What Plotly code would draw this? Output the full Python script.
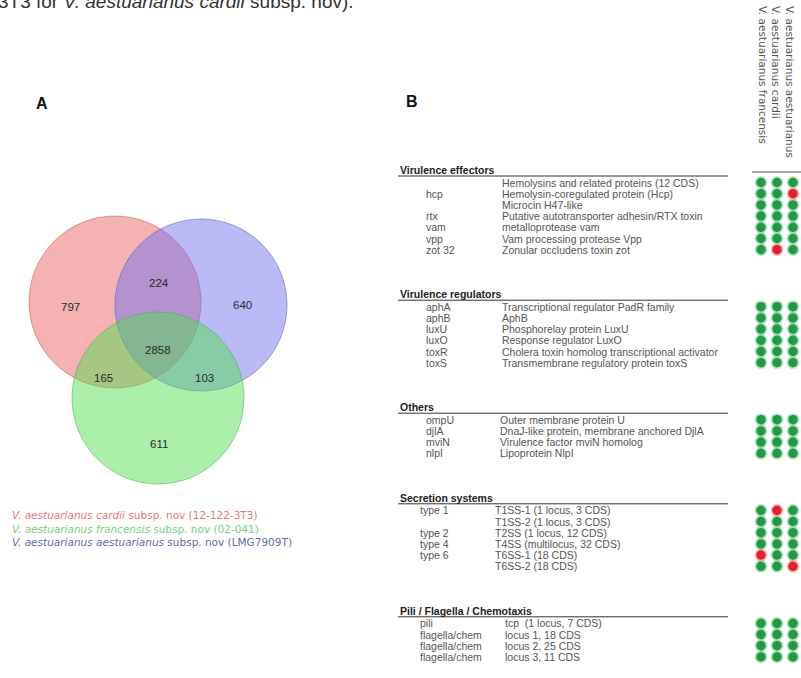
import plotly.graph_objects as go

# ---------------- data ----------------
venn_labels = ["797", "224", "640", "2858", "165", "103", "611"]  # cardii, cardii∩aest, aest, all, cardii∩fran, fran∩aest, fran
strain_names = ["V. aestuarianus francensis", "V. aestuarianus cardii", "V. aestuarianus aestuarianus"]

section_titles = ["Virulence effectors", "Virulence regulators", "Others", "Secretion systems", "Pili / Flagella / Chemotaxis"]
section_genes = [
    ["", "hcp", "", "rtx", "vam", "vpp", "zot 32"],
    ["aphA", "aphB", "luxU", "luxO", "toxR", "toxS"],
    ["ompU", "djlA", "mviN", "nlpI"],
    ["type 1", "", "type 2", "type 4", "type 6", ""],
    ["pili", "flagella/chem", "flagella/chem", "flagella/chem"],
]
section_desc = [
    ["Hemolysins and related proteins (12 CDS)", "Hemolysin-coregulated protein (Hcp)", "Microcin H47-like",
     "Putative autotransporter adhesin/RTX toxin", "metalloprotease vam", "Vam processing protease Vpp",
     "Zonular occludens toxin zot"],
    ["Transcriptional regulator PadR family", "AphB", "Phosphorelay protein LuxU", "Response regulator LuxO",
     "Cholera toxin homolog transcriptional activator", "Transmembrane regulatory protein toxS"],
    ["Outer membrane protein U", "DnaJ-like protein, membrane anchored DjlA", "Virulence factor mviN homolog",
     "Lipoprotein NlpI"],
    ["T1SS-1 (1 locus, 3 CDS)", "T1SS-2 (1 locus, 3 CDS)", "T2SS (1 locus, 12 CDS)", "T4SS (multilocus, 32 CDS)",
     "T6SS-1 (18 CDS)", "T6SS-2 (18 CDS)"],
    ["tcp  (1 locus, 7 CDS)", "locus 1, 18 CDS", "locus 2, 25 CDS", "locus 3, 11 CDS"],
]
# presence (1) / absence (0): francensis, cardii, aestuarianus
section_presence = [
    [[1, 1, 1], [1, 1, 0], [1, 1, 1], [1, 1, 1], [1, 1, 1], [1, 1, 1], [1, 0, 1]],
    [[1, 1, 1]] * 6,
    [[1, 1, 1]] * 4,
    [[1, 0, 1], [1, 1, 1], [1, 1, 1], [1, 1, 1], [0, 1, 1], [1, 1, 0]],
    [[1, 1, 1]] * 4,
]
legend_texts = ["<i>V. aestuarianus cardii</i> subsp. nov (12-122-3T3)",
                "<i>V. aestuarianus francensis</i> subsp. nov (02-041)",
                "<i>V. aestuarianus aestuarianus</i> subsp. nov (LMG7909T)"]
legend_colors = ["rgb(228,120,120)", "rgb(118,208,118)", "rgb(105,105,165)"]

# ---------------- layout constants ----------------
W, H = 801, 678
HEADER0 = 170
ROW_STEP = 11.2
HEAD_TO_ROW = 12.5
SECTION_GAP = 44.5
X_HEAD, X_GENE = 398, 424
X_DESC = [500, 500, 498, 493, 503]
X_LINE_END = 728
DOT_X0, DOT_DX = 761, 16

TEXT_FONT = "Liberation Sans"
fig = go.Figure()
annotations = []
shapes = []

# ---------------- Panel A: Venn ----------------
R = 86
circles = [  # (cx, cy, fill, line)
    (115, 302, "rgba(232,95,95,0.48)", "rgba(190,90,90,0.55)"),
    (201, 305, "rgba(110,110,238,0.48)", "rgba(90,90,190,0.55)"),
    (158, 398, "rgba(80,222,80,0.48)", "rgba(80,170,80,0.55)"),
]
for cx, cy, fc, lc in circles:
    shapes.append(dict(type="circle", xref="x", yref="y", x0=cx - R, x1=cx + R, y0=cy - R, y1=cy + R,
                       fillcolor=fc, line=dict(color=lc, width=1), layer="below"))

venn_pos = [(70, 307), (159, 283), (242, 305), (158, 350), (103, 378), (204, 378), (159, 444)]
for lab, (px, py) in zip(venn_labels, venn_pos):
    annotations.append(dict(x=px, y=py, text=lab, showarrow=False, xanchor="center", yanchor="middle",
                            font=dict(family=TEXT_FONT, size=11.5, color="#2a2a2a")))

legend_html = "<br>".join("<span style='color:%s'>%s</span>" % (c, t)
                          for t, c in zip(legend_texts, legend_colors))
annotations.append(dict(x=10, y=507, text=legend_html, showarrow=False, xanchor="left", yanchor="top",
                        align="left", font=dict(family="DejaVu Sans", size=10.5, color=legend_colors[0])))

# panel letters and top text
annotations.append(dict(x=42, y=103, text="<b>A</b>", showarrow=False, xanchor="center", yanchor="middle",
                        font=dict(family="Liberation Sans", size=16, color="#111")))
annotations.append(dict(x=412, y=101, text="<b>B</b>", showarrow=False, xanchor="center", yanchor="middle",
                        font=dict(family="Liberation Sans", size=16, color="#111")))
annotations.append(dict(x=0, y=1, xshift=-4, text="3T3 for <i>V. aestuarianus cardii</i> subsp. nov).",
                        showarrow=False, xanchor="left", yanchor="middle",
                        font=dict(family="Liberation Sans", size=19, color="#333")))

# ---------------- Panel B: table ----------------
# column headers (rotated)
for j, name in enumerate(strain_names):
    annotations.append(dict(x=DOT_X0 + 2 + j * 13.5, y=4, text=name, textangle=90, showarrow=False,
                            xanchor="center", yanchor="top",
                            font=dict(family="DejaVu Sans", size=10.5, color="#555")))
shapes.append(dict(type="line", xref="x", yref="y", x0=752, x1=801, y0=172, y1=172,
                   line=dict(color="#555", width=1)))

dot_x, dot_y, dot_c, halo_c = [], [], [], []
hy = HEADER0
for s, title in enumerate(section_titles):
    annotations.append(dict(x=X_HEAD, y=hy, text="<b>" + title + "</b>", showarrow=False, xanchor="left",
                            yanchor="middle", font=dict(family=TEXT_FONT, size=10.5, color="#222")))
    shapes.append(dict(type="line", xref="x", yref="y", x0=X_HEAD, x1=X_LINE_END, y0=hy + 6, y1=hy + 6,
                       line=dict(color="#333", width=1)))
    ry = hy + HEAD_TO_ROW
    for i, (g, d, pres) in enumerate(zip(section_genes[s], section_desc[s], section_presence[s])):
        y = ry + i * ROW_STEP
        if g:
            annotations.append(dict(x=X_GENE - (6 if s >= 3 else 0), y=y, text=g, showarrow=False,
                                    xanchor="left", yanchor="middle",
                                    font=dict(family=TEXT_FONT, size=10.5, color="#555")))
        annotations.append(dict(x=X_DESC[s], y=y, text=d, showarrow=False, xanchor="left", yanchor="middle",
                                font=dict(family=TEXT_FONT, size=10.5, color="#555")))
        for j, p in enumerate(pres):
            dot_x.append(DOT_X0 + j * DOT_DX)
            dot_y.append(y)
            dot_c.append("#1f9a48" if p else "#e3202b")
            halo_c.append("rgba(40,160,80,0.28)" if p else "rgba(230,40,50,0.28)")
    hy = ry + (len(section_desc[s]) - 1) * ROW_STEP + SECTION_GAP

fig.add_trace(go.Scatter(x=dot_x, y=dot_y, mode="markers", hoverinfo="skip",
                         marker=dict(size=13, color=halo_c, line=dict(width=0))))
fig.add_trace(go.Scatter(x=dot_x, y=dot_y, mode="markers", hoverinfo="skip",
                         marker=dict(size=9.5, color=dot_c, line=dict(width=0))))

fig.update_layout(
    width=W, height=H, margin=dict(l=0, r=0, t=0, b=0),
    paper_bgcolor="white", plot_bgcolor="white", showlegend=False,
    xaxis=dict(range=[0, W], visible=False, fixedrange=True),
    yaxis=dict(range=[H, 0], visible=False, fixedrange=True),
    annotations=annotations, shapes=shapes,
)
fig.write_html("out.html", config={"displayModeBar": False},
               post_script="document.body.style.margin='0px';document.body.style.overflow='hidden';")
